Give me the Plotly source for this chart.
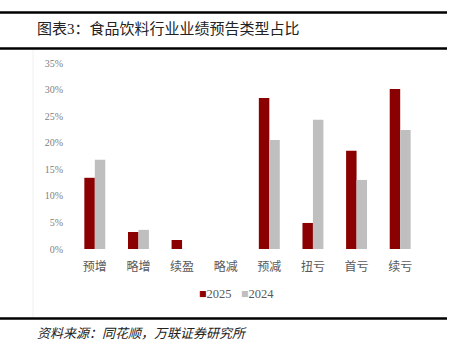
import plotly.graph_objects as go

categories = ["预增", "略增", "续盈", "略减", "预减", "扭亏", "首亏", "续亏"]
v2025 = [13.4, 3.2, 1.7, 0.0, 28.4, 4.9, 18.5, 30.1]
v2024 = [16.8, 3.6, 0.0, 0.0, 20.5, 24.3, 13.0, 22.4]
yticks = [0, 5, 10, 15, 20, 25, 30, 35]
ytick_labels = ["0%", "5%", "10%", "15%", "20%", "25%", "30%", "35%"]
series_names = ["2025", "2024"]
series_colors = ["#8B0000", "#BFBFBF"]

W, H = 451, 352
L, R, T, B = 73, 29, 63, 103
pw, ph = W - L - R, H - T - B

def px(x):
    return (x - L) / pw

def py(y):
    return (H - B - y) / ph

fig = go.Figure()
fig.add_trace(go.Bar(x=categories, y=v2025, name=series_names[0], marker=dict(color=series_colors[0], line=dict(width=0))))
fig.add_trace(go.Bar(x=categories, y=v2024, name=series_names[1], marker=dict(color=series_colors[1], line=dict(width=0))))

fig.update_layout(
    width=W, height=H,
    margin=dict(l=L, r=R, t=T, b=B),
    paper_bgcolor="white", plot_bgcolor="white",
    barmode="group", bargap=0.52, bargroupgap=0,
    font=dict(family="Liberation Serif, Noto Sans CJK SC", color="#595959", size=11),
    showlegend=False,
    xaxis=dict(showline=False, ticks="", tickfont=dict(size=12, color="#595959"), showgrid=False,
               ticklabelstandoff=9),
    yaxis=dict(range=[0, 35], tickvals=yticks, ticktext=ytick_labels, showgrid=False,
               zeroline=False, showline=False, ticks="", tickfont=dict(size=10, color="#808080"),
               ticklabelstandoff=9),
)

shapes = []
for yy in (12.5, 48.5, 318.5):
    shapes.append(dict(type="line", xref="paper", yref="paper", x0=px(0), x1=px(447), y0=py(yy), y1=py(yy),
                       line=dict(color="black", width=2.5)))
shapes.append(dict(type="line", xref="paper", yref="paper", x0=px(33), x1=px(33), y0=py(50), y1=py(317),
                   line=dict(color="#F0F0F0", width=1)))
fig.update_layout(shapes=shapes)

legend_text = "&nbsp;&nbsp;&nbsp;".join(
    f"<span style='color:{c}'>■</span>{n}" for n, c in zip(series_names, series_colors)
)
fig.add_annotation(text=legend_text, xref="paper", yref="paper",
                   x=px(236), y=py(294), xanchor="center", yanchor="middle", showarrow=False,
                   font=dict(size=12.5, color="#595959", family="Liberation Serif, Noto Sans CJK SC"))

fig.add_annotation(text="图表3：食品饮料行业业绩预告类型占比", xref="paper", yref="paper",
                   x=px(35), y=py(29), xanchor="left", yanchor="middle", showarrow=False,
                   font=dict(size=15, color="#222222", family="Liberation Serif, Noto Sans CJK SC"))
fig.add_annotation(text="<i>资料来源：同花顺，万联证券研究所</i>", xref="paper", yref="paper",
                   x=px(35), y=py(333), xanchor="left", yanchor="middle", showarrow=False,
                   font=dict(size=13, color="#222222", family="Liberation Serif, Noto Sans CJK SC"))

fig.write_html("out.html")
